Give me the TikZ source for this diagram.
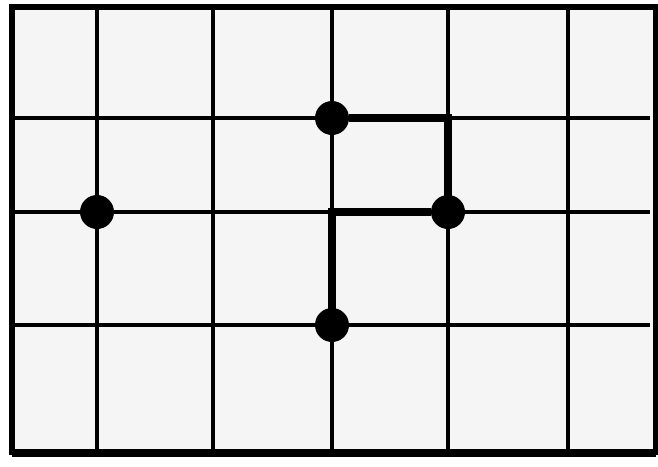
\documentclass[tikz,border=0pt]{standalone}
\usetikzlibrary{positioning}

\tikzset{
  gridline/.style={line width=3pt},
  pathline/.style={line width=7pt},
  spot/.style={circle,fill=black,inner sep=0pt,minimum size=1.02cm}
}

\begin{document}
\begin{tikzpicture}[x=0.03cm,y=-0.03cm]
\useasboundingbox (0,0) rectangle (658,466);
% paper and frame
\fill[black!4] (12,7) rectangle (656,452);
\foreach \gx in {97,213,332,448,568}
  \draw[gridline] (\gx,7) -- (\gx,452);
\foreach \gy in {118,212,325}
  \draw[gridline] (12,\gy) -- (650,\gy);
\draw[line width=4.5pt] (12,7) rectangle (656,452);
\draw[line width=6pt] (12,453) -- (656,453);
% spots
\node[spot] (top) at (332,118) {};
\node[spot] (left) at (97,212) {};
\node[spot] (right) at (448,212) {};
\node[spot] (bottom) at (332,325) {};
\coordinate (corner) at (448,118);
\coordinate (mid) at (332,212);
% path
\draw[pathline,line join=miter] (top) -- (corner) -- (right.center);
\draw[pathline,line join=miter] (right) -- (mid) -- (bottom.center);
\end{tikzpicture}
\end{document}
